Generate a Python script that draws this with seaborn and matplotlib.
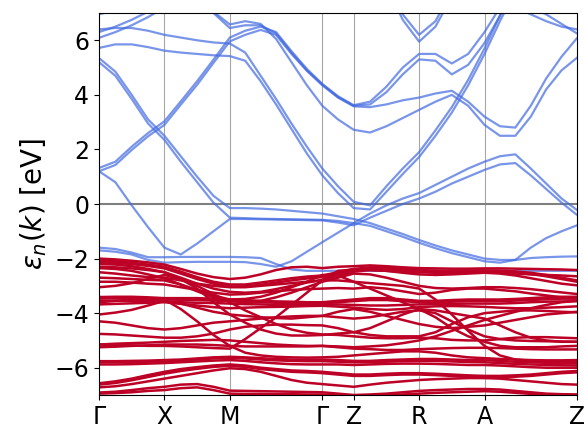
import numpy as np
import pandas as pd
import matplotlib
matplotlib.use("Agg")
import matplotlib.pyplot as plt
import seaborn as sns

# k-path: Γ-X-M-Γ-Z-R-A-Z
kpath_labels = ["Γ", "X", "M", "Γ", "Z", "R", "A", "Z"]
segment_lengths = [1.0, 1.0, 1.414, 0.48, 1.0, 1.0, 1.414]
segment_steps = [4, 4, 6, 2, 4, 4, 6]

# conduction bands (eV), one value per k-point (31 points)
cb_1 = [1.32, 1.55, 2.10, 2.60, 3.03, 3.76, 4.50, 5.29, 6.10, 6.35, 6.50, 6.30, 5.60, 4.95, 4.40, 3.95, 3.62,
        3.75, 4.30, 5.00, 5.50, 5.50, 5.15, 5.50, 6.30, 7.20, 8.00, 8.00, 8.00, 8.00, 8.00]
cb_2 = [1.20, 1.43, 1.98, 2.48, 2.90, 3.64, 4.37, 5.17, 5.96, 6.20, 6.38, 6.20, 5.50, 4.88, 4.35, 3.90, 3.58,
        3.55, 3.65, 3.80, 3.90, 4.05, 4.15, 3.75, 3.20, 2.85, 2.80, 3.60, 4.60, 5.40, 6.08]
cb_3 = [6.95, 7.10, 7.40, 7.80, 8.00, 8.00, 7.60, 7.05, 6.58, 6.70, 6.60, 6.05, 5.20, 4.35, 3.60, 3.10, 2.72,
        2.62, 2.85, 3.15, 3.45, 3.75, 4.00, 3.60, 2.90, 2.50, 2.50, 3.20, 4.20, 4.90, 5.36]
cb_4 = [8.00, 8.00, 8.00, 8.00, 8.00, 8.00, 7.80, 7.00, 6.45, 6.55, 6.55, 6.25, 5.55, 4.90, 4.38, 3.92, 3.60,
        3.65, 4.10, 4.75, 5.30, 5.25, 4.75, 5.10, 5.90, 6.90, 7.80, 8.00, 8.00, 8.00, 8.00]
cb_5 = [6.40, 6.45, 6.45, 6.35, 6.20, 6.10, 6.00, 5.92, 5.88, 5.55, 4.70, 3.85, 2.95, 2.10, 1.30, 0.65, 0.08,
        -0.05, 0.65, 1.30, 1.90, 2.70, 3.55, 4.55, 5.70, 6.90, 8.00, 8.00, 8.00, 8.00, 8.00]
cb_6 = [5.72, 5.85, 5.85, 5.75, 5.62, 5.55, 5.50, 5.45, 5.42, 5.25, 4.50, 3.65, 2.75, 1.85, 1.05, 0.40, -0.15,
        -0.20, 0.45, 1.10, 1.72, 2.50, 3.35, 4.35, 5.50, 6.70, 7.80, 8.00, 8.00, 8.00, 8.00]
cb_7 = [6.30, 6.50, 6.75, 7.05, 7.40, 8.00, 8.00, 8.00, 8.00, 8.00, 8.00, 8.00, 8.00, 8.00, 8.00, 8.00, 8.00,
        8.00, 8.00, 8.00, 8.00, 8.00, 8.00, 8.00, 8.00, 8.00, 8.00, 8.00, 8.00, 8.00, 8.00]
cb_8 = [6.09, 6.30, 6.55, 6.85, 7.20, 8.00, 8.00, 8.00, 8.00, 8.00, 8.00, 8.00, 8.00, 8.00, 8.00, 8.00, 8.00,
        8.00, 8.00, 8.00, 8.00, 8.00, 8.00, 8.00, 8.00, 8.00, 8.00, 8.00, 8.00, 8.00, 8.00]
cb_9 = [5.35, 4.85, 4.00, 3.10, 2.50, 1.75, 1.00, 0.30, -0.15, -0.15, -0.17, -0.20, -0.25, -0.30, -0.35, -0.45, -0.55,
        -0.70, -0.90, -1.10, -1.32, -1.52, -1.70, -1.85, -2.00, -2.05, -2.05, -1.98, -1.95, -1.93, -1.92]
cb_10 = [5.20, 4.70, 3.85, 2.95, 2.35, 1.55, 0.80, 0.05, -0.50, -0.52, -0.54, -0.55, -0.56, -0.57, -0.58, -0.62, -0.70,
         -0.80, -1.00, -1.20, -1.42, -1.62, -1.80, -1.95, -2.10, -2.15, -2.05, -1.60, -1.25, -1.00, -0.78]
cb_11 = [1.20, 0.80, -0.05, -0.85, -1.60, -1.85, -1.45, -1.00, -0.55, -0.55, -0.56, -0.57, -0.58, -0.59, -0.60, -0.68, -0.78,
         -0.50, -0.25, 0.00, 0.20, 0.45, 0.75, 1.00, 1.25, 1.45, 1.50, 1.05, 0.55, 0.05, -0.40]
cb_12 = [-1.70, -1.75, -1.85, -2.05, -2.15, -2.13, -2.12, -2.12, -2.12, -2.13, -2.20, -2.30, -2.10, -1.75, -1.40, -1.05, -0.70,
         -0.35, -0.05, 0.20, 0.40, 0.70, 1.00, 1.30, 1.55, 1.75, 1.82, 1.30, 0.75, 0.20, -0.22]
cb_13 = [-1.60, -1.65, -1.78, -1.95, -1.95, -1.94, -1.94, -1.94, -1.94, -1.95, -1.98, -2.20, -2.40, -2.45, -2.45, -2.45, -2.45,
         -2.45, -2.45, -2.45, -2.45, -2.45, -2.45, -2.45, -2.45, -2.45, -2.45, -2.45, -2.45, -2.45, -2.45]
cb_14 = [8.00, 8.00, 8.00, 8.00, 8.00, 8.00, 8.00, 8.00, 8.00, 8.00, 8.00, 8.00, 8.00, 8.00, 8.00, 8.00, 8.00,
         8.00, 8.00, 8.00, 8.00, 8.00, 8.00, 8.00, 8.00, 8.00, 7.20, 6.95, 6.70, 6.50, 6.40]
cb_15 = [8.00, 8.00, 8.00, 8.00, 8.00, 8.00, 8.00, 8.00, 8.00, 8.00, 8.00, 8.00, 8.00, 8.00, 8.00, 8.00, 8.00,
         8.00, 8.00, 8.00, 8.00, 8.00, 8.00, 8.00, 8.00, 8.00, 8.00, 7.20, 6.95, 6.60, 6.25]
cb_16 = [8.00, 8.00, 8.00, 8.00, 8.00, 8.00, 8.00, 8.00, 8.00, 8.00, 8.00, 8.00, 8.00, 8.00, 8.00, 8.00, 8.00,
         8.00, 8.00, 6.95, 6.20, 6.70, 7.80, 8.00, 8.00, 8.00, 8.00, 8.00, 8.00, 8.00, 8.00]
cb_17 = [8.00, 8.00, 8.00, 8.00, 8.00, 8.00, 8.00, 8.00, 8.00, 8.00, 8.00, 8.00, 8.00, 8.00, 8.00, 8.00, 8.00,
         8.00, 8.00, 6.75, 5.95, 6.50, 7.60, 8.00, 8.00, 8.00, 8.00, 8.00, 8.00, 8.00, 8.00]

# valence bands (eV)
vb_1 = [-2.00, -2.03, -2.08, -2.14, -2.22, -2.38, -2.55, -2.68, -2.75, -2.70, -2.58, -2.42, -2.32, -2.30, -2.35, -2.30, -2.28,
        -2.25, -2.28, -2.32, -2.35, -2.36, -2.37, -2.37, -2.36, -2.36, -2.37, -2.38, -2.39, -2.40, -2.42]
vb_2 = [-2.08, -2.10, -2.15, -2.22, -2.30, -2.48, -2.68, -2.85, -2.95, -2.95, -2.88, -2.80, -2.72, -2.66, -2.62, -2.50, -2.38,
        -2.32, -2.33, -2.38, -2.42, -2.44, -2.45, -2.44, -2.43, -2.44, -2.47, -2.52, -2.60, -2.70, -2.80]
vb_3 = [-2.20, -2.22, -2.28, -2.38, -2.50, -2.70, -2.92, -3.10, -3.22, -3.25, -3.22, -3.12, -3.00, -2.88, -2.78, -2.62, -2.48,
        -2.42, -2.45, -2.52, -2.58, -2.60, -2.58, -2.55, -2.52, -2.55, -2.62, -2.72, -2.82, -2.92, -2.98]
vb_4 = [-2.35, -2.38, -2.45, -2.58, -2.72, -2.95, -3.20, -3.42, -3.55, -3.60, -3.55, -3.42, -3.25, -3.05, -2.85, -2.70, -2.55,
        -2.58, -2.70, -2.85, -3.00, -3.08, -3.10, -3.08, -3.05, -3.05, -3.08, -3.12, -3.18, -3.24, -3.30]
vb_5 = [-2.70, -2.72, -2.75, -2.78, -2.80, -2.95, -3.15, -3.35, -3.50, -3.48, -3.40, -3.25, -3.05, -2.85, -2.60, -2.62, -2.85,
        -3.10, -3.35, -3.60, -3.85, -4.15, -4.55, -4.85, -5.05, -5.20, -5.25, -5.25, -5.25, -5.22, -5.20]
vb_6 = [-5.15, -5.17, -5.18, -5.20, -5.20, -5.22, -5.25, -5.28, -5.30, -4.95, -4.55, -4.15, -3.70, -3.25, -2.80, -2.45, -2.40,
        -2.42, -2.45, -2.48, -2.50, -2.52, -2.52, -2.50, -2.50, -2.52, -2.55, -2.58, -2.60, -2.62, -2.65]
vb_7 = [-3.05, -3.00, -2.90, -2.75, -2.60, -2.75, -3.00, -3.30, -3.60, -3.90, -4.15, -4.40, -4.60, -4.72, -4.78, -4.80, -4.85,
        -4.90, -4.92, -4.92, -4.90, -4.92, -4.98, -5.00, -5.00, -4.95, -4.90, -4.88, -4.88, -4.90, -4.92]
vb_8 = [-3.41, -3.40, -3.40, -3.42, -3.45, -3.45, -3.45, -3.47, -3.50, -3.52, -3.55, -3.57, -3.58, -3.60, -3.60, -3.55, -3.50,
        -3.45, -3.45, -3.50, -3.55, -3.55, -3.52, -3.50, -3.50, -3.50, -3.48, -3.45, -3.42, -3.40, -3.40]
vb_9 = [-3.56, -3.55, -3.55, -3.56, -3.58, -3.60, -3.62, -3.63, -3.65, -3.67, -3.68, -3.70, -3.70, -3.70, -3.68, -3.68, -3.70,
        -3.72, -3.72, -3.70, -3.68, -3.67, -3.66, -3.65, -3.65, -3.65, -3.63, -3.60, -3.58, -3.57, -3.56]
vb_10 = [-3.68, -3.66, -3.64, -3.62, -3.60, -3.66, -3.72, -3.78, -3.82, -3.80, -3.78, -3.77, -3.76, -3.74, -3.73, -3.76, -3.80,
         -3.85, -3.88, -3.85, -3.78, -3.75, -3.74, -3.75, -3.77, -3.80, -3.82, -3.82, -3.80, -3.78, -3.75]
vb_11 = [-4.05, -3.98, -3.88, -3.72, -3.55, -3.65, -3.80, -3.95, -4.05, -4.10, -4.15, -4.18, -4.20, -4.15, -4.10, -3.95, -3.85,
         -3.95, -4.10, -4.25, -4.40, -4.50, -4.55, -4.50, -4.45, -4.35, -4.25, -4.15, -4.05, -4.00, -3.95]
vb_12 = [-4.76, -4.78, -4.82, -4.86, -4.90, -4.90, -4.85, -4.75, -4.60, -4.50, -4.45, -4.42, -4.42, -4.44, -4.45, -4.55, -4.70,
         -4.80, -4.85, -4.85, -4.85, -4.70, -4.40, -4.15, -4.00, -3.95, -3.90, -3.90, -3.92, -3.95, -3.97]
vb_13 = [-5.25, -5.23, -5.20, -5.18, -5.15, -5.15, -5.15, -5.17, -5.20, -5.22, -5.22, -5.22, -5.22, -5.22, -5.20, -5.22, -5.25,
         -5.22, -5.18, -5.10, -5.00, -4.85, -4.65, -4.45, -4.25, -4.10, -3.95, -3.82, -3.70, -3.60, -3.55]
vb_14 = [-2.50, -2.55, -2.62, -2.68, -2.70, -2.80, -2.92, -3.00, -3.05, -3.05, -3.00, -2.95, -2.90, -2.85, -2.80, -2.80, -2.85,
         -2.90, -2.95, -3.00, -3.10, -3.50, -4.05, -4.65, -5.20, -5.55, -5.70, -5.75, -5.78, -5.80, -5.80]
vb_15 = [-5.15, -5.12, -5.10, -5.08, -5.05, -5.02, -5.00, -4.98, -5.00, -5.05, -5.10, -5.15, -5.18, -5.20, -5.20, -5.25, -5.30,
         -5.32, -5.35, -5.35, -5.32, -5.30, -5.28, -5.27, -5.27, -5.28, -5.30, -5.32, -5.33, -5.33, -5.33]
vb_16 = [-5.76, -5.76, -5.75, -5.74, -5.72, -5.70, -5.66, -5.62, -5.60, -5.62, -5.65, -5.68, -5.70, -5.70, -5.70, -5.72, -5.75,
         -5.75, -5.72, -5.70, -5.68, -5.68, -5.70, -5.72, -5.72, -5.75, -5.78, -5.80, -5.82, -5.83, -5.85]
vb_17 = [-5.88, -5.88, -5.87, -5.85, -5.83, -5.80, -5.77, -5.74, -5.72, -5.75, -5.80, -5.84, -5.87, -5.88, -5.88, -5.88, -5.90,
         -5.88, -5.86, -5.85, -5.85, -5.86, -5.88, -5.90, -5.90, -5.92, -5.95, -5.98, -6.00, -6.00, -6.00]
vb_18 = [-6.57, -6.50, -6.40, -6.27, -6.15, -6.05, -5.98, -5.92, -5.88, -5.92, -6.00, -6.05, -6.10, -6.12, -6.15, -6.20, -6.25,
         -6.25, -6.22, -6.20, -6.20, -6.22, -6.25, -6.28, -6.30, -6.30, -6.28, -6.25, -6.20, -6.15, -6.12]
vb_19 = [-6.72, -6.68, -6.60, -6.50, -6.40, -6.30, -6.20, -6.10, -6.02, -6.05, -6.15, -6.30, -6.45, -6.55, -6.60, -6.65, -6.70,
         -6.62, -6.55, -6.50, -6.45, -6.42, -6.40, -6.38, -6.38, -6.40, -6.45, -6.50, -6.55, -6.60, -6.62]
vb_20 = [-6.91, -6.88, -6.82, -6.75, -6.70, -6.62, -6.60, -6.70, -6.84, -6.85, -6.86, -6.87, -6.88, -6.89, -6.90, -6.95, -7.00,
         -6.98, -6.95, -6.90, -6.85, -6.82, -6.80, -6.78, -6.78, -6.80, -6.85, -6.90, -6.95, -6.97, -6.98]
vb_21 = [-6.95, -6.93, -6.90, -6.85, -6.82, -6.75, -6.72, -6.82, -6.95, -6.96, -6.96, -6.97, -6.97, -6.98, -6.98, -7.02, -7.05,
         -7.02, -7.00, -6.98, -6.95, -6.92, -6.90, -6.88, -6.86, -6.88, -6.92, -6.96, -6.99, -7.00, -7.00]
vb_22 = [-3.60, -3.55, -3.50, -3.48, -3.50, -3.85, -4.30, -4.80, -5.20, -5.45, -5.55, -5.60, -5.62, -5.63, -5.62, -5.60, -5.55,
         -5.50, -5.45, -5.40, -5.40, -5.45, -5.55, -5.62, -5.65, -5.68, -5.70, -5.72, -5.73, -5.73, -5.72]
vb_23 = [-2.30, -2.32, -2.36, -2.42, -2.50, -2.75, -3.10, -3.60, -4.05, -4.35, -4.60, -4.75, -4.82, -4.82, -4.80, -4.75, -4.70,
         -4.55, -4.30, -4.05, -3.85, -3.90, -4.00, -4.10, -4.20, -4.45, -4.70, -4.90, -5.00, -5.05, -5.05]
vb_24 = [-4.30, -4.35, -4.45, -4.55, -4.60, -4.55, -4.45, -4.35, -4.30, -4.25, -4.20, -4.15, -4.12, -4.10, -4.10, -4.15, -4.20,
         -4.15, -4.05, -3.95, -3.90, -4.00, -4.30, -4.60, -4.85, -4.95, -5.00, -5.02, -5.03, -5.04, -5.05]
vb_25 = [-2.85, -2.85, -2.88, -2.92, -2.95, -3.05, -3.15, -3.25, -3.32, -3.30, -3.25, -3.20, -3.15, -3.12, -3.10, -3.08, -3.10,
         -3.05, -3.10, -3.20, -3.30, -3.25, -3.15, -3.10, -3.10, -3.15, -3.20, -3.28, -3.35, -3.42, -3.45]
vb_26 = [-5.80, -5.80, -5.79, -5.78, -5.76, -5.74, -5.70, -5.66, -5.64, -5.66, -5.70, -5.73, -5.75, -5.76, -5.76, -5.78, -5.80,
         -5.80, -5.78, -5.76, -5.75, -5.75, -5.77, -5.79, -5.80, -5.83, -5.86, -5.88, -5.90, -5.91, -5.92]
vb_27 = [-3.47, -3.46, -3.46, -3.48, -3.50, -3.51, -3.52, -3.54, -3.56, -3.58, -3.60, -3.62, -3.63, -3.64, -3.64, -3.60, -3.56,
         -3.52, -3.52, -3.56, -3.60, -3.60, -3.58, -3.56, -3.56, -3.56, -3.54, -3.52, -3.49, -3.47, -3.47]
vb_28 = [-2.14, -2.16, -2.20, -2.27, -2.36, -2.55, -2.75, -2.92, -3.02, -3.02, -2.96, -2.88, -2.80, -2.73, -2.68, -2.55, -2.43,
         -2.37, -2.38, -2.43, -2.47, -2.49, -2.50, -2.49, -2.48, -2.49, -2.52, -2.57, -2.65, -2.75, -2.85]
vb_29 = [-6.62, -6.56, -6.46, -6.34, -6.22, -6.12, -6.04, -5.97, -5.93, -5.97, -6.05, -6.10, -6.15, -6.17, -6.20, -6.25, -6.30,
         -6.30, -6.27, -6.25, -6.25, -6.27, -6.30, -6.33, -6.35, -6.35, -6.33, -6.30, -6.25, -6.20, -6.17]

conduction_bands = [cb_1, cb_2, cb_3, cb_4, cb_5, cb_6, cb_7, cb_8, cb_9, cb_10, cb_11, cb_12,
                    cb_13, cb_14, cb_15, cb_16, cb_17]
valence_bands = [vb_1, vb_2, vb_3, vb_4, vb_5, vb_6, vb_7, vb_8, vb_9, vb_10, vb_11, vb_12, vb_13,
                 vb_14, vb_15, vb_16, vb_17, vb_18, vb_19, vb_20, vb_21, vb_22, vb_23, vb_24, vb_25,
                 vb_26, vb_27, vb_28, vb_29]

# k-point positions along the path
kpts = [0.0]
for length, n in zip(segment_lengths, segment_steps):
    start = kpts[-1]
    kpts += list(start + length * np.arange(1, n + 1) / n)
kpts = np.array(kpts)
tick_k = np.concatenate([[0.0], np.cumsum(segment_lengths)])


def to_frame(bands, kind):
    rows = []
    for i, band in enumerate(bands):
        for k, e in zip(kpts, band):
            rows.append({"k": k, "E": e, "band": f"{kind}{i}"})
    return pd.DataFrame(rows)


cb_df = to_frame(conduction_bands, "c")
vb_df = to_frame(valence_bands, "v")

fig = plt.figure(figsize=(5.84, 4.30), dpi=100)
ax = fig.add_axes([99 / 584, 35 / 430, 478 / 584, 382 / 430])

for k in tick_k[1:-1]:
    ax.axvline(k, color="grey", lw=0.8, alpha=0.7, zorder=0)
ax.axhline(0, color="grey", lw=1.5, zorder=1)

sns.lineplot(data=cb_df, x="k", y="E", units="band", estimator=None, sort=False,
             color="royalblue", alpha=0.7, lw=1.6, ax=ax, legend=False)
sns.lineplot(data=vb_df, x="k", y="E", units="band", estimator=None, sort=False,
             color="#bd0026", lw=1.8, ax=ax, legend=False)

ax.set_xlim(0, tick_k[-1])
ax.set_ylim(-7, 7)
ax.set_xticks(tick_k)
ax.set_xticklabels(kpath_labels)
ax.set_yticks([-6, -4, -2, 0, 2, 4, 6])
ax.tick_params(labelsize=17)
ax.set_xlabel("")
ax.set_ylabel(r"$\varepsilon_n(k)$ [eV]", fontsize=20)

fig.savefig("out.png", dpi=100)
